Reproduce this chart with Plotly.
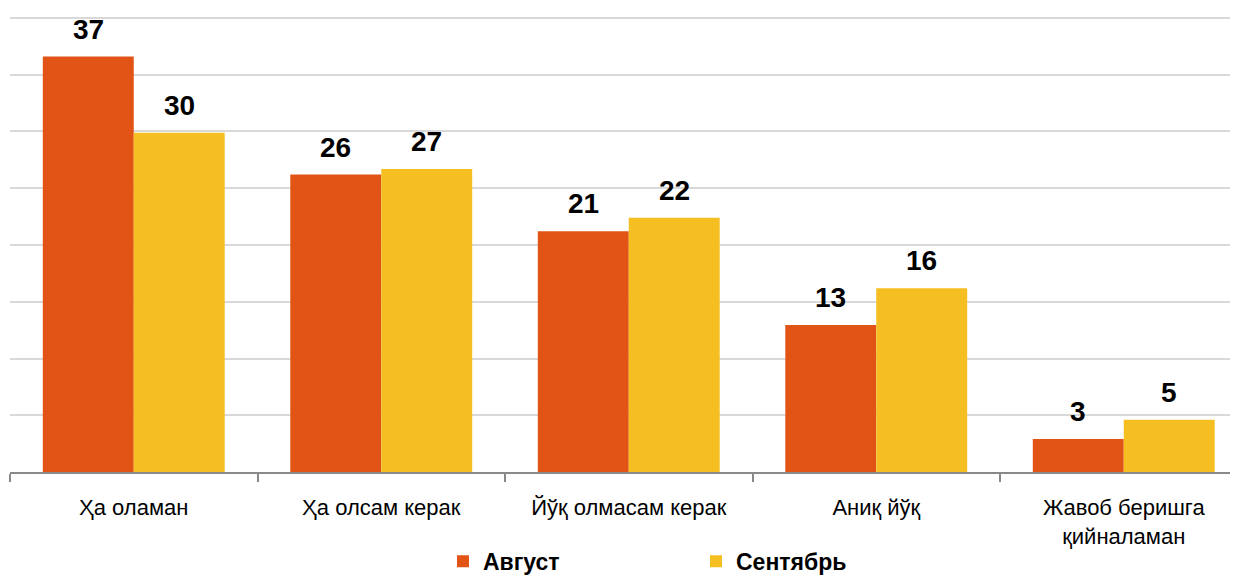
import plotly.graph_objects as go

categories = ["Ҳа оламан", "Ҳа олсам керак", "Йўқ олмасам керак", "Аниқ йўқ", "Жавоб беришга<br>қийналаман"]
august = [36.6, 26.2, 21.2, 12.95, 2.9]
september = [29.9, 26.7, 22.4, 16.2, 4.6]
series_names = ["Август", "Сентябрь"]
colors = ["#E25415", "#F5BF22"]

FONT = "Liberation Sans, Arial, sans-serif"

fig = go.Figure()
for name, vals, col in zip(series_names, [august, september], colors):
    fig.add_trace(go.Bar(x=categories, y=vals, name=name, marker=dict(color=col, line=dict(width=0))))

annotations = []
for shift, vals in zip([-45.5, 45.5], [august, september]):
    for c, v in zip(categories, vals):
        annotations.append(dict(x=c, y=v, xref="x", yref="y", text=f"<b>{round(v)}</b>",
                                showarrow=False, xshift=shift, yanchor="bottom", yshift=10,
                                font=dict(family=FONT, size=28, color="#000000")))

fig.update_layout(
    width=1230, height=567,
    margin=dict(l=2, r=0, t=0, b=103, autoexpand=False),
    plot_bgcolor="white", paper_bgcolor="white",
    barmode="group", bargap=0.265, bargroupgap=0,
    showlegend=True,
    legend=dict(orientation="h", x=0.3526, xanchor="left", y=-0.146, yanchor="top",
                font=dict(family=FONT, size=23, color="#000000", weight="bold"),
                entrywidth=208, entrywidthmode="pixels", itemsizing="constant",
                traceorder="normal"),
    annotations=annotations,
)
fig.update_xaxes(range=[-0.5, 4.4616], tickson="boundaries", ticks="outside", ticklen=8,
                 tickcolor="#898989", tickwidth=1.5, showline=True, linecolor="#898989", linewidth=1.5,
                 tickfont=dict(family=FONT, size=22, color="#000000"), ticklabelstandoff=15,
                 showgrid=False, automargin=False)
fig.update_yaxes(range=[0, 40.88], dtick=5, showgrid=True, gridcolor="#D9D9D9", gridwidth=1.5,
                 showticklabels=False, zeroline=False, showline=False, automargin=False)

fig.write_html("out.html")
